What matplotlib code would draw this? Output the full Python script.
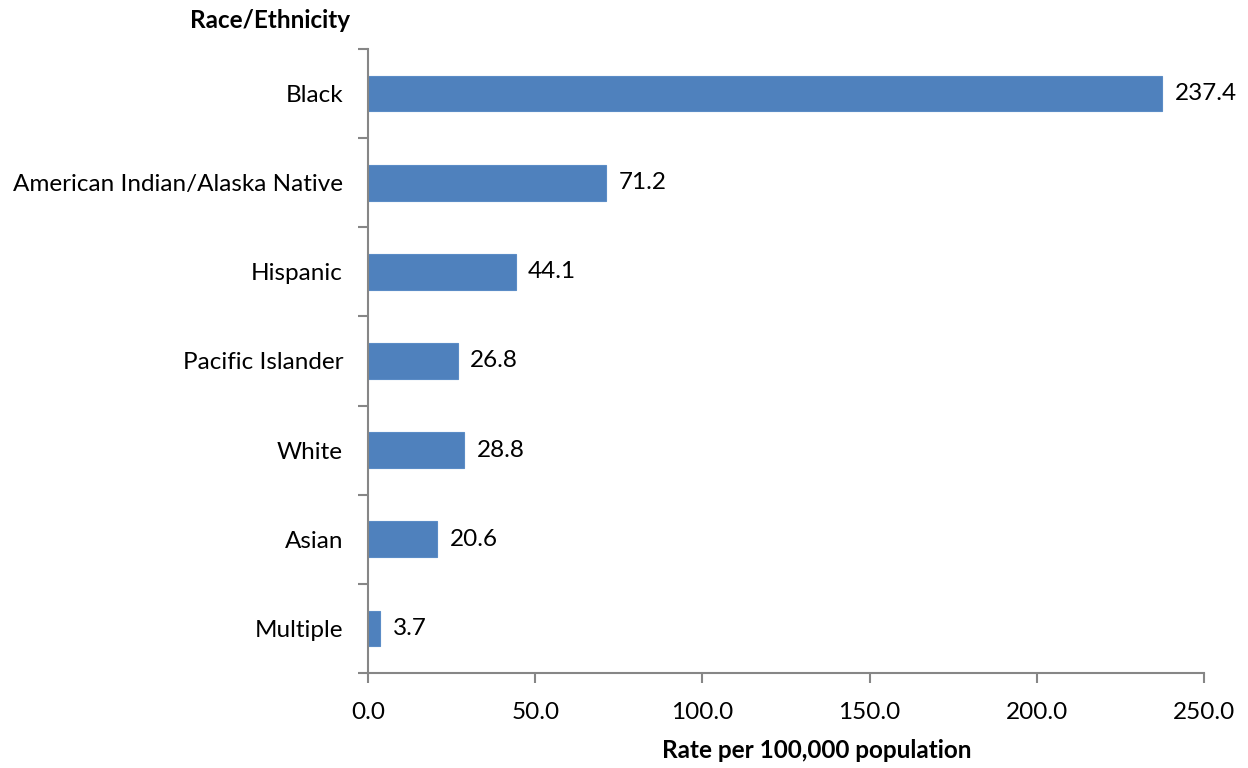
import matplotlib.pyplot as plt
import numpy as np

# data
groups = ["Black", "American Indian/Alaska Native", "Hispanic", "Pacific Islander",
          "White", "Asian", "Multiple"]
rates = [237.4, 71.2, 44.1, 26.8, 28.8, 20.6, 3.7]
xticks = [0, 50, 100, 150, 200, 250]

plt.rcParams['font.family'] = ['Lato', 'DejaVu Sans']
fs = 17.5

fig = plt.figure(figsize=(12.48, 7.68), dpi=100)
ax = fig.add_axes([0.2949, 0.1237, 0.6699, 0.8125])

ypos = np.arange(len(groups))
ax.barh(ypos, rates, height=0.4, color="#4F81BD", edgecolor="#5B8CC6", linewidth=0.8)

for y, v in zip(ypos, rates):
    ax.annotate(f"{v:.1f}", (v, y), xytext=(9, 0), textcoords="offset points",
                va="center", ha="left", fontsize=fs)

ax.set_ylim(len(groups) - 0.5, -0.5)
ax.set_xlim(0, 250)
ax.set_xticks(xticks)
ax.set_xticklabels([f"{t:.1f}" for t in xticks], fontsize=fs)
ax.set_yticks(ypos)
ax.set_yticklabels(groups, fontsize=fs)
ax.set_yticks(np.arange(len(groups) + 1) - 0.5, minor=True)
ax.tick_params(axis="y", which="major", length=0, pad=18)
ax.tick_params(axis="y", which="minor", length=7, width=1.5, color="#868686", direction="out")
ax.tick_params(axis="x", length=7, width=1.5, color="#868686", direction="out", pad=14)

for s in ["top", "right"]:
    ax.spines[s].set_visible(False)
for s in ["left", "bottom"]:
    ax.spines[s].set_color("#868686")
    ax.spines[s].set_linewidth(1.5)

ax.set_xlabel("Rate per 100,000 population", fontsize=fs, fontweight="bold")
ax.xaxis.set_label_coords(817 / 1248, 1 - 751 / 768, transform=fig.transFigure)
ax.xaxis.label.set_va("center")
fig.text(350 / 1248, 1 - 20 / 768, "Race/Ethnicity", fontsize=fs, fontweight="bold",
         ha="right", va="center")

fig.savefig("out.png", dpi=100)
